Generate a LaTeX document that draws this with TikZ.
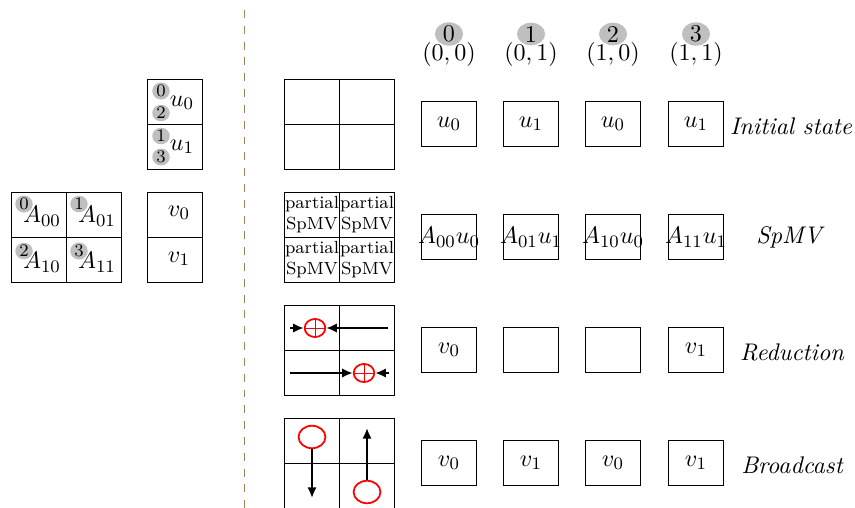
\documentclass[tikz,border=0pt,11pt]{standalone}
\usetikzlibrary{shapes.geometric,arrows.meta}
\begin{document}
\begin{tikzpicture}[x=0.16mm,y=-0.16mm,
  cell/.style={draw,minimum width=8.8mm,minimum height=7.2mm,inner sep=0pt},
  box/.style={draw,minimum width=8.8mm,minimum height=7.3mm,inner sep=0pt},
  tag/.style={ellipse,fill=gray!50,inner sep=0pt,minimum width=2.8mm,minimum height=2.1mm,font=\scriptsize},
  bigtag/.style={ellipse,fill=gray!50,inner sep=0pt,minimum width=4.5mm,minimum height=2.9mm},
  op/.style={ellipse,draw=red,thick,minimum width=3.3mm,minimum height=2.9mm,inner sep=0pt},
  src/.style={ellipse,draw=red,thick,minimum width=4.3mm,minimum height=3.6mm,inner sep=0pt},
  msg/.style={line width=1pt,-{Latex[length=1.7mm,width=1.5mm]}},
  phase/.style={font=\itshape}]
\useasboundingbox (0,0) rectangle (855,508);
\draw[brown!60!gray,line width=0.25pt,dash pattern=on 3.6pt off 3.6pt] (244,10) -- (244,508);
% matrix A
\node[cell] (a00) at (38.5,214.5) {};
\node[cell] (a01) at (93.5,214.5) {};
\node[cell] (a10) at (38.5,259.5) {};
\node[cell] (a11) at (93.5,259.5) {};
\node[tag] (ta00) at (24,204) {0};
\node[tag] (ta01) at (79,204) {1};
\node[tag] (ta10) at (24,251) {2};
\node[tag] (ta11) at (79,251) {3};
\node (la00) at (42,216) {$A_{00}$};
\node (la01) at (97,216) {$A_{01}$};
\node (la10) at (42,262) {$A_{10}$};
\node (la11) at (97,262) {$A_{11}$};
% vectors u and v
\node[cell] (u0) at (175,101.5) {};
\node[cell] (u1) at (175,146.5) {};
\node[tag] (tu00) at (161,91) {0};
\node[tag] (tu02) at (161,113) {2};
\node[tag] (tu11) at (161,136) {1};
\node[tag] (tu13) at (161,157) {3};
\node (lu0) at (182,103) {$u_0$};
\node (lu1) at (182,147) {$u_1$};
\node[cell] (v0) at (175,214.5) {};
\node[cell] (v1) at (175,259.5) {};
\node (lv0) at (179,213) {$v_0$};
\node (lv1) at (179,259) {$v_1$};
% process ids
\node[bigtag] (h0) at (449,34) {0};
\node[bigtag] (h1) at (531,34) {1};
\node[bigtag] (h2) at (613,34) {2};
\node[bigtag] (h3) at (696,34) {3};
\node (p0) at (449,54) {$(0,0)$};
\node (p1) at (531,54) {$(0,1)$};
\node (p2) at (613,54) {$(1,0)$};
\node (p3) at (696,54) {$(1,1)$};
% initial state
\node[cell] (g00) at (312,101.5) {};
\node[cell] (g01) at (367,101.5) {};
\node[cell] (g10) at (312,146.5) {};
\node[cell] (g11) at (367,146.5) {};
\node[box] (i0) at (449,124) {$u_0$};
\node[box] (i1) at (531,124) {$u_1$};
\node[box] (i2) at (613,124) {$u_0$};
\node[box] (i3) at (696,124) {$u_1$};
\node[phase] (li) at (791,126) {Initial state};
% spmv
\node[cell,font=\scriptsize,align=center] (s00) at (312,214.5) {partial\\SpMV};
\node[cell,font=\scriptsize,align=center] (s01) at (367,214.5) {partial\\SpMV};
\node[cell,font=\scriptsize,align=center] (s10) at (312,259.5) {partial\\SpMV};
\node[cell,font=\scriptsize,align=center] (s11) at (367,259.5) {partial\\SpMV};
\node[box] (s0) at (449,237) {\makebox[8.8mm]{$A_{00}u_0$}};
\node[box] (s1) at (531,237) {\makebox[8.8mm]{$A_{01}u_1$}};
\node[box] (s2) at (613,237) {\makebox[8.8mm]{$A_{10}u_0$}};
\node[box] (s3) at (696,237) {\makebox[8.8mm]{$A_{11}u_1$}};
\node[phase] (ls) at (789,237) {SpMV};
% reduction
\node[cell] (r00) at (312,327.5) {};
\node[cell] (r01) at (367,327.5) {};
\node[cell] (r10) at (312,372.5) {};
\node[cell] (r11) at (367,372.5) {};
\node[op] (ox0) at (315,328) {};
\node[op] (ox1) at (364,373) {};
\draw[red] (ox0.north) -- (ox0.south) (ox0.west) -- (ox0.east)
           (ox1.north) -- (ox1.south) (ox1.west) -- (ox1.east);
\coordinate (ra) at (290,328);
\coordinate (rb) at (388,328);
\coordinate (rc) at (290,373);
\coordinate (rd) at (389,373);
\draw[msg] (ra) -- (ox0);
\draw[msg] (rb) -- (ox0);
\draw[msg] (rc) -- (ox1);
\draw[msg] (rd) -- (ox1);
\node[box] (r0) at (449,350) {$v_0$};
\node[box] (r1) at (531,350) {};
\node[box] (r2) at (613,350) {};
\node[box] (r3) at (696,350) {$v_1$};
\node[phase] (lr) at (792,352) {Reduction};
% broadcast
\node[cell] (b00) at (312,440.5) {};
\node[cell] (b01) at (367,440.5) {};
\node[cell] (b10) at (312,485.5) {};
\node[cell] (b11) at (367,485.5) {};
\node[src] (o0) at (312,437) {};
\node[src] (o1) at (367,492) {};
\coordinate (ba) at (312,498);
\coordinate (bb) at (367,428);
\draw[msg] (o0) -- (ba);
\draw[msg] (o1) -- (bb);
\node[box] (b0) at (449,463) {$v_0$};
\node[box] (b1) at (531,463) {$v_1$};
\node[box] (b2) at (613,463) {$v_0$};
\node[box] (b3) at (696,463) {$v_1$};
\node[phase] (lb) at (792,465) {Broadcast};
\end{tikzpicture}
\end{document}
